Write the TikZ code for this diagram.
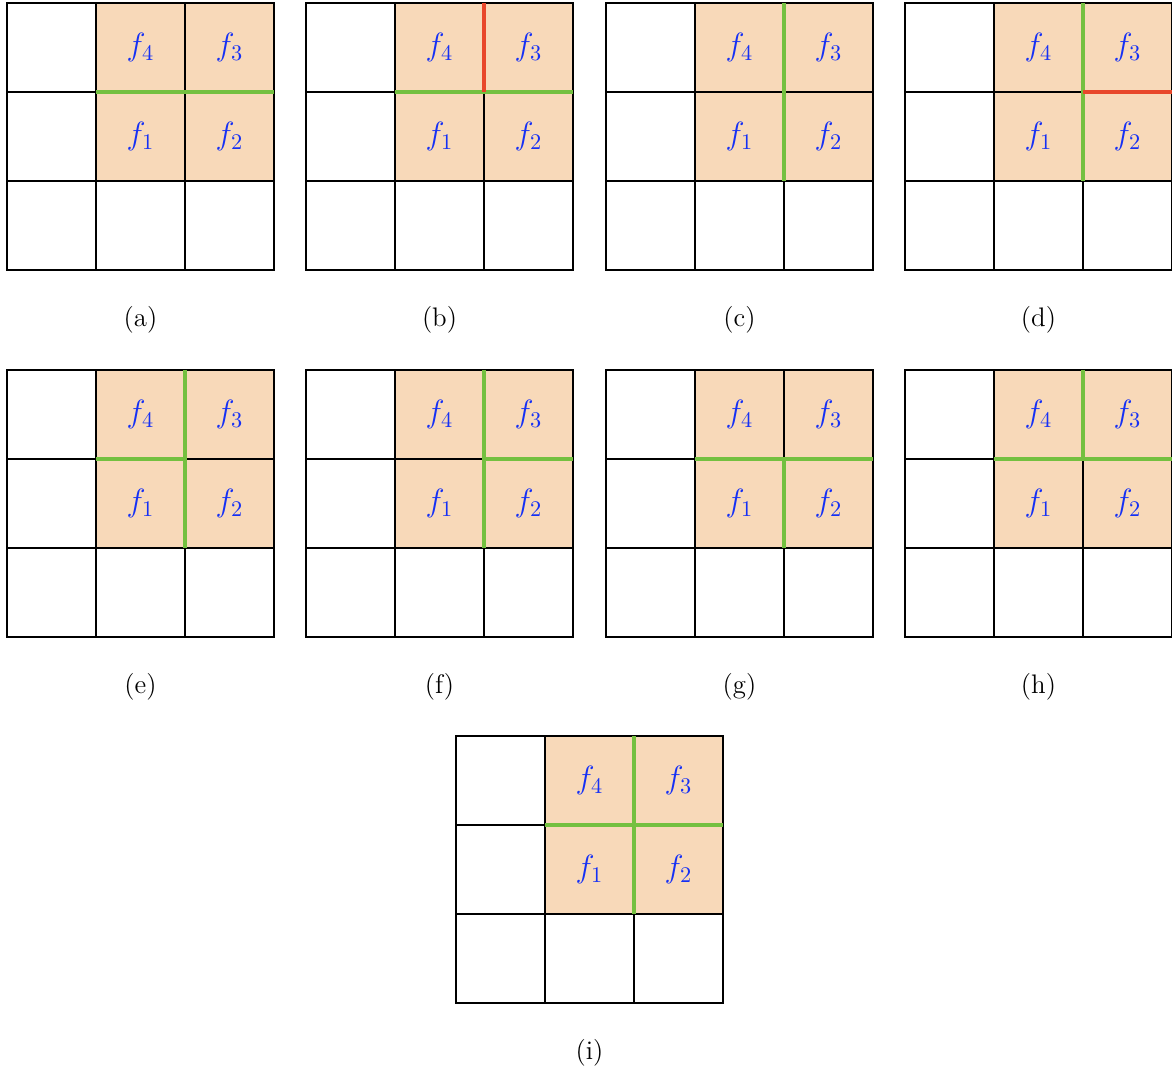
\documentclass[tikz,border=0pt]{standalone}
\usepackage{amsmath}
\usepackage{tikz}
\usetikzlibrary{backgrounds}
\usepackage{xcolor}
\definecolor{cellpeach}{HTML}{F8D9B9}
\definecolor{fblue}{HTML}{1530F5}
\definecolor{edgegreen}{HTML}{74C040}
\definecolor{edgered}{HTML}{E8472B}

\begin{document}
\begin{tikzpicture}[
    cell/.style={draw, line width=1.1pt, minimum size=1.4cm, inner sep=0pt,
                 outer sep=0pt, font=\Large, text=fblue},
    sublabel/.style={font=\large},
    greenedge/.style={edgegreen, line width=1.45pt},
    rededge/.style={edgered, line width=1.45pt}
  ]
  \useasboundingbox (0,0) rectangle (18.436,-16.832);

  % nine panels of 3x3 cells
  \foreach \p/\x/\y in {a/0.110/-0.047, b/4.814/-0.047, c/9.533/-0.047, d/14.236/-0.047,
                        e/0.110/-5.820, f/4.814/-5.820, g/9.533/-5.820, h/14.236/-5.820,
                        i/7.173/-11.578} {
    \foreach \r/\c/\t in {1/1/{}, 1/2/{$f_4$}, 1/3/{$f_3$},
                          2/1/{}, 2/2/{$f_1$}, 2/3/{$f_2$},
                          3/1/{}, 3/2/{}, 3/3/{}} {
      \node[cell] (\p-\r\c) at ({\x+1.4*\c-0.7},{\y-1.4*\r+0.7}) {\t};
    }
    \begin{scope}[on background layer]
      \fill[cellpeach] (\p-12.north west) rectangle (\p-23.south east);
    \end{scope}
    \node[sublabel] (\p-lab) at ({\x+2.1},{\y-4.987}) {(\p)};
  }

  % (a)
  \draw[greenedge] (a-22.north west) -- (a-23.north east);
  % (b)
  \draw[greenedge] (b-22.north west) -- (b-23.north east);
  \draw[rededge] (b-12.north east) -- (b-12.south east);
  % (c)
  \draw[greenedge] (c-12.north east) -- (c-22.south east);
  % (d)
  \draw[greenedge] (d-12.north east) -- (d-22.south east);
  \draw[rededge] (d-23.north west) -- (d-23.north east);
  % (e)
  \draw[greenedge] (e-12.north east) -- (e-22.south east);
  \draw[greenedge] (e-22.north west) -- (e-22.north east);
  % (f)
  \draw[greenedge] (f-12.north east) -- (f-22.south east);
  \draw[greenedge] (f-23.north west) -- (f-23.north east);
  % (g)
  \draw[greenedge] (g-22.north west) -- (g-23.north east);
  \draw[greenedge] (g-22.north east) -- (g-22.south east);
  % (h)
  \draw[greenedge] (h-22.north west) -- (h-23.north east);
  \draw[greenedge] (h-12.north east) -- (h-12.south east);
  % (i)
  \draw[greenedge] (i-22.north west) -- (i-23.north east);
  \draw[greenedge] (i-12.north east) -- (i-22.south east);
\end{tikzpicture}
\end{document}
